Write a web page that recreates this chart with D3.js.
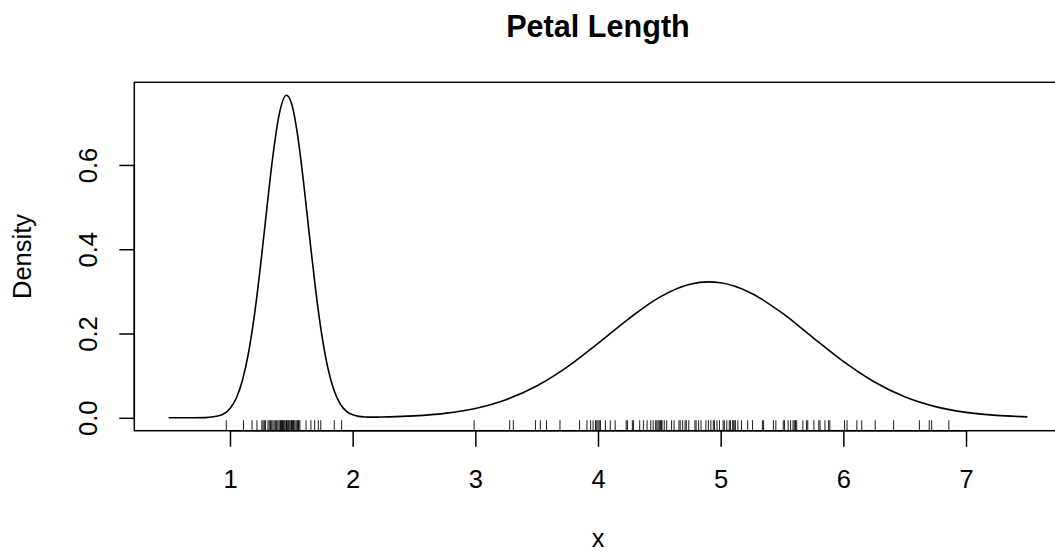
<!DOCTYPE html>
<html>
<head>
<meta charset="utf-8">
<script src="https://cdn.jsdelivr.net/npm/d3@7"></script>
<style>
  html, body { margin: 0; padding: 0; background: #fff; }
  svg { display: block; font-family: "Liberation Sans", Arial, Helvetica, sans-serif; }
</style>
</head>
<body>
<svg id="chart" width="1055" height="559"></svg>
<script>
// ---- Data ----
const densityX = [0.5,0.7,0.8,0.9,1.0,1.05,1.1,1.15,1.2,1.25,1.3,1.35,1.4,1.46,1.5,1.55,1.6,1.65,1.7,1.75,1.8,1.85,1.9,1.95,2.0,2.05,2.1,2.15,2.2,2.3,2.5,2.75,3.0,3.25,3.5,3.75,4.0,4.25,4.5,4.75,4.9,5.0,5.25,5.5,5.75,6.0,6.25,6.5,6.75,7.0,7.25,7.5];
const densityY = [0.0000,0.0001,0.0005,0.0041,0.0223,0.0459,0.0873,0.1526,0.2455,0.3635,0.4955,0.6218,0.7183,0.7654,0.7474,0.6733,0.5583,0.4262,0.2994,0.1937,0.1154,0.0635,0.0322,0.0153,0.0070,0.0033,0.0019,0.0015,0.0016,0.0022,0.0046,0.0106,0.0223,0.0430,0.0754,0.1208,0.1764,0.2350,0.2857,0.3168,0.3225,0.3204,0.2956,0.2488,0.1910,0.1338,0.0855,0.0498,0.0265,0.0128,0.0057,0.0023];

const rugValues = [
  0.97,1.11,1.18,1.22,1.26,1.27,1.28,1.29,1.31,1.32,1.33,1.34,1.35,1.36,1.37,1.38,1.39,1.40,1.41,1.41,
  1.42,1.43,1.43,1.44,1.44,1.45,1.46,1.46,1.47,1.48,1.48,1.49,1.50,1.50,1.51,1.52,1.52,1.53,1.54,1.55,
  1.56,1.56,1.57,1.62,1.66,1.69,1.72,1.74,1.85,1.91,
  2.99,3.28,3.31,3.49,3.53,3.58,3.69,3.85,3.91,3.94,3.96,3.98,3.99,4.00,4.01,4.02,4.06,4.10,4.14,
  4.23,4.24,4.28,4.29,4.34,4.37,4.40,4.43,4.45,4.47,4.48,4.49,4.50,4.51,4.52,4.52,4.54,4.56,
  4.60,4.62,4.66,4.67,4.69,4.71,4.72,4.74,4.79,4.80,4.82,4.84,4.88,4.90,4.92,4.94,4.95,
  4.97,4.99,5.02,5.03,5.05,5.07,5.08,5.10,5.10,5.11,5.12,5.14,5.17,5.22,5.26,5.34,5.35,5.43,
  5.45,5.51,5.52,5.55,5.57,5.59,5.60,5.61,5.62,5.67,5.70,5.71,5.76,5.80,5.81,5.85,5.88,5.89,
  6.01,6.03,6.11,6.15,6.26,6.41,6.62,6.70,6.72,6.86
];

const xTicks = [1,2,3,4,5,6,7];
const yTicks = [0.0,0.2,0.4,0.6];
const yTickLabels = ["0.0","0.2","0.4","0.6"];
const titleText = "Petal Length";
const xLabel = "x";
const yLabel = "Density";

// ---- Layout ----
const svg = d3.select("#chart");
const plot = { left: 134.3, right: 1061.7, top: 82.3, bottom: 430.7 };
const x = d3.scaleLinear().domain([0.22, 7.78]).range([plot.left, plot.right]);
const y = d3.scaleLinear().domain([-0.0306, 0.7961]).range([plot.bottom, plot.top]);
const fontSize = 25.5;

// Box
svg.append("rect")
  .attr("x", plot.left).attr("y", plot.top)
  .attr("width", plot.right - plot.left).attr("height", plot.bottom - plot.top)
  .attr("fill", "none").attr("stroke", "#000").attr("stroke-width", 1.5);

// Density curve
const pts = densityX.map((d, i) => [d, densityY[i]]);
svg.append("path")
  .datum(pts)
  .attr("fill", "none").attr("stroke", "#000").attr("stroke-width", 1.6)
  .attr("d", d3.line().x(d => x(d[0])).y(d => y(d[1])).curve(d3.curveMonotoneX));

// Rug
const rugLen = (plot.bottom - plot.top) * 0.03;
svg.append("g").selectAll("line").data(rugValues).join("line")
  .attr("x1", d => x(d)).attr("x2", d => x(d))
  .attr("y1", plot.bottom).attr("y2", plot.bottom - rugLen)
  .attr("stroke", "#000").attr("stroke-width", 0.9);

// X axis
const xAxis = d3.axisBottom(x).tickValues(xTicks).tickSize(16).tickPadding(24).tickSizeOuter(0).tickFormat(d3.format("d"));
const gx = svg.append("g").attr("transform", `translate(0,${plot.bottom})`).call(xAxis);
gx.select(".domain").attr("stroke-width", 1.5).attr("d", `M${x(1)},0H${x(7)}`);
gx.selectAll(".tick line").attr("stroke-width", 1.5);
gx.selectAll(".tick text").attr("font-size", fontSize).attr("font-family", "Liberation Sans, Arial, sans-serif").attr("fill", "#000")
  .attr("dy", null).attr("y", 57.5);

// Y axis
const yAxis = d3.axisLeft(y).tickValues(yTicks).tickSize(15).tickSizeOuter(0).tickFormat((d, i) => yTickLabels[i]);
const gy = svg.append("g").attr("transform", `translate(${plot.left},0)`).call(yAxis);
gy.select(".domain").attr("stroke-width", 1.5).attr("d", `M0,${y(0)}V${y(0.6)}`);
gy.selectAll(".tick line").attr("stroke-width", 1.5);
gy.selectAll(".tick text").remove();
gy.selectAll(".tick").append("text")
  .attr("transform", "rotate(-90)")
  .attr("x", 0).attr("y", -37.5)
  .attr("text-anchor", "middle")
  .attr("font-size", fontSize).attr("font-family", "Liberation Sans, Arial, sans-serif")
  .attr("fill", "#000")
  .text((d, i) => yTickLabels[i]);

// Title
const cx = (plot.left + plot.right) / 2;
svg.append("text")
  .attr("x", cx).attr("y", 37)
  .attr("text-anchor", "middle")
  .attr("font-size", 30.6).attr("font-weight", "bold")
  .text(titleText);

// X label
svg.append("text")
  .attr("x", cx).attr("y", 547)
  .attr("text-anchor", "middle")
  .attr("font-size", fontSize)
  .text(xLabel);

// Y label
const cy = (plot.top + plot.bottom) / 2;
svg.append("text")
  .attr("transform", `translate(30.5,${cy}) rotate(-90)`)
  .attr("text-anchor", "middle")
  .attr("font-size", fontSize)
  .text(yLabel);
</script>
</body>
</html>
